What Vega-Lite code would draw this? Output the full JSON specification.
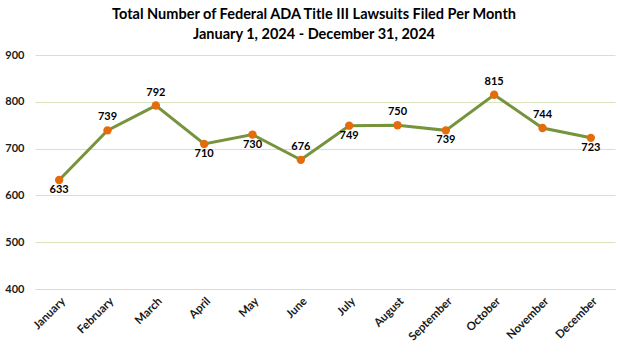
{
  "$schema": "https://vega.github.io/schema/vega-lite/v6.json",
  "width": 580,
  "height": 234,
  "autosize": {"type": "none"},
  "padding": {"left": 35, "top": 55, "right": 9, "bottom": 64},
  "background": "white",
  "title": {
    "text": ["Total Number of Federal ADA Title III Lawsuits Filed Per Month", "January 1, 2024 - December 31, 2024"],
    "font": "Lato",
    "fontSize": 14.5,
    "fontWeight": "bold",
    "color": "#000000",
    "anchor": "middle",
    "dx": -11,
    "offset": 7,
    "lineHeight": 20
  },
  "data": {
    "values": [
      {"month": "January", "lawsuits": 633},
      {"month": "February", "lawsuits": 739},
      {"month": "March", "lawsuits": 792},
      {"month": "April", "lawsuits": 710},
      {"month": "May", "lawsuits": 730},
      {"month": "June", "lawsuits": 676},
      {"month": "July", "lawsuits": 749},
      {"month": "August", "lawsuits": 750},
      {"month": "September", "lawsuits": 739},
      {"month": "October", "lawsuits": 815},
      {"month": "November", "lawsuits": 744},
      {"month": "December", "lawsuits": 723}
    ]
  },
  "encoding": {
    "x": {
      "field": "month",
      "type": "ordinal",
      "sort": null,
      "scale": {"paddingInner": 0, "paddingOuter": 0},
      "axis": {
        "title": null,
        "labelAngle": -45,
        "labelFont": "Lato",
        "labelFontSize": 11.5,
        "labelFontWeight": "bold",
        "labelColor": "#1a1a1a",
        "ticks": false,
        "domain": true,
        "domainColor": "#d9d9d9",
        "domainWidth": 1,
        "labelPadding": 6,
        "grid": false
      }
    },
    "y": {
      "field": "lawsuits",
      "type": "quantitative",
      "scale": {"domain": [400, 900], "nice": false, "zero": false},
      "axis": {
        "title": null,
        "values": [400, 500, 600, 700, 800, 900],
        "labelFont": "Lato",
        "labelFontSize": 11,
        "labelFontWeight": "bold",
        "labelColor": "#1a1a1a",
        "labelPadding": 11,
        "ticks": false,
        "domain": false,
        "grid": true,
        "gridColor": "#d7e4bd",
        "gridWidth": 1
      }
    }
  },
  "layer": [
    {
      "mark": {"type": "line", "color": "#77933C", "strokeWidth": 3}
    },
    {
      "mark": {"type": "point", "filled": true, "color": "#E46C0A", "size": 70, "opacity": 1}
    },
    {
      "transform": [{"filter": {"field": "month", "oneOf": ["February", "March", "June", "August", "October", "November"]}}],
      "mark": {"type": "text", "dy": -13, "font": "Lato", "fontSize": 11, "fontWeight": "bold", "color": "#000000"},
      "encoding": {"text": {"field": "lawsuits", "type": "quantitative"}}
    },
    {
      "transform": [{"filter": {"field": "month", "oneOf": ["January", "April", "May", "July", "September", "December"]}}],
      "mark": {"type": "text", "dy": 10, "font": "Lato", "fontSize": 11, "fontWeight": "bold", "color": "#000000"},
      "encoding": {"text": {"field": "lawsuits", "type": "quantitative"}}
    }
  ],
  "config": {
    "view": {"stroke": null}
  }
}
